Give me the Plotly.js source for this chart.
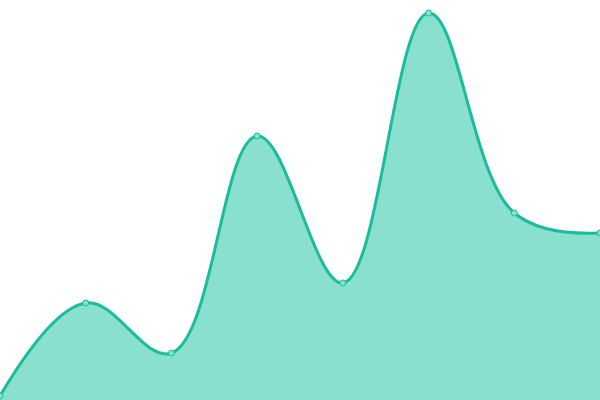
<!DOCTYPE html>
<html>
<head>
<meta charset="utf-8">
<script src="https://cdn.plot.ly/plotly-3.0.1.min.js"></script>
<style>
  html, body { margin: 0; padding: 0; background: #fff; }
  #chart { width: 600px; height: 400px; }
</style>
</head>
<body>
<div id="chart"></div>
<script>
// Point positions along x and the values
const xValues = [0, 1, 2, 3, 4, 5, 6, 7];
const yValues = [4, 97, 47, 264, 117, 387, 187, 167];

const trace = {
    x: xValues,
    y: yValues,
    type: 'scatter',
    mode: 'lines+markers',
    fill: 'tozeroy',
    fillcolor: '#8ae0cf',
    line: { color: '#1abc9c', width: 3, shape: 'spline', smoothing: 1.1 },
    marker: {
        size: 6,
        color: '#8ae0cf',
        line: { color: '#1abc9c', width: 1 }
    },
    cliponaxis: false,
    hoverinfo: 'skip'
};

const layout = {
    width: 600,
    height: 400,
    margin: { l: 0, r: 0, t: 0, b: 0 },
    paper_bgcolor: 'white',
    plot_bgcolor: 'white',
    showlegend: false,
    xaxis: { range: [0, 7], visible: false, fixedrange: true },
    yaxis: { range: [0, 400], visible: false, fixedrange: true }
};

Plotly.newPlot('chart', [trace], layout, { displayModeBar: false, staticPlot: true });
</script>
</body>
</html>
